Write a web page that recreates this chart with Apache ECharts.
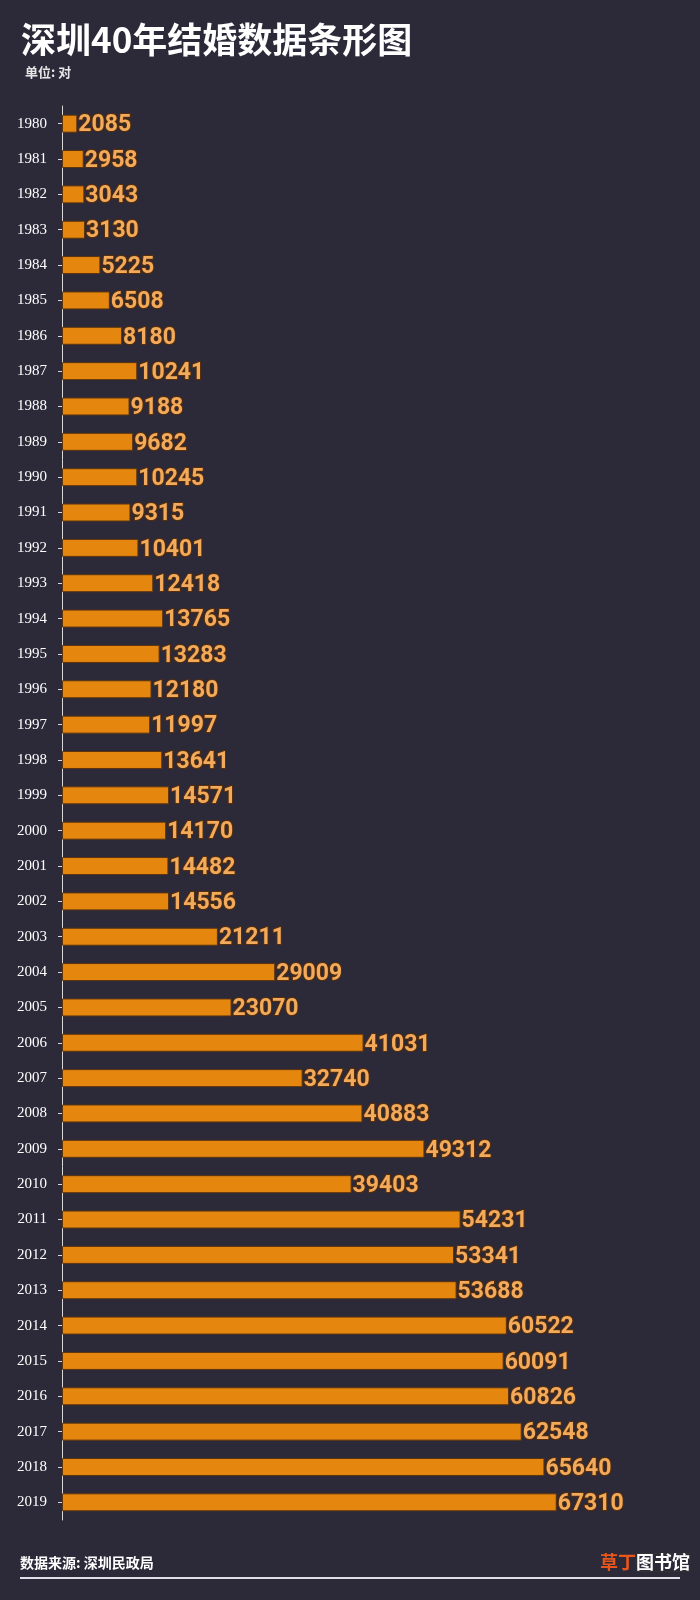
<!DOCTYPE html>
<html><head><meta charset="utf-8">
<script src="https://cdn.jsdelivr.net/npm/echarts@6/dist/echarts.min.js"></script>
<style>html,body{margin:0;padding:0;background:#2c2a39;}#c{width:700px;height:1600px;}</style>
</head><body><div id="c"></div>
<script>
const years = ['1980','1981','1982','1983','1984','1985','1986','1987','1988','1989','1990','1991','1992','1993','1994','1995','1996','1997','1998','1999','2000','2001','2002','2003','2004','2005','2006','2007','2008','2009','2010','2011','2012','2013','2014','2015','2016','2017','2018','2019'];
const marriages = [2085,2958,3043,3130,5225,6508,8180,10241,9188,9682,10245,9315,10401,12418,13765,13283,12180,11997,13641,14571,14170,14482,14556,21211,29009,23070,41031,32740,40883,49312,39403,54231,53341,53688,60522,60091,60826,62548,65640,67310];
const titleText = '深圳40年结婚数据条形图';
const unitText = '单位: 对';
const sourceText = '数据来源: 深圳民政局';

const chart = echarts.init(document.getElementById('c'));
chart.setOption({
  backgroundColor: '#2c2a39',
  animation: false,
  title: [{
    text: titleText, left: 16, top: 17,
    textStyle: {color: '#ffffff', fontSize: 35, fontWeight: 'bold', fontFamily: 'Noto Sans CJK SC'}
  }, {
    text: unitText, left: 20, top: 61,
    textStyle: {color: '#e6e6e6', fontSize: 13, fontWeight: 'bold', fontFamily: 'Noto Sans CJK SC'}
  }],
  grid: {left: 62, right: 50, top: 106, bottom: 80, containLabel: false},
  xAxis: {type: 'value', min: 0, max: 80000, show: false, splitLine: {show: false}},
  yAxis: {
    type: 'category', data: years, inverse: true,
    axisLine: {show: true, lineStyle: {color: '#d8d8d8', width: 1}},
    axisTick: {show: true, alignWithLabel: true, length: 4, lineStyle: {color: '#d8d8d8'}},
    axisLabel: {color: '#ffffff', fontSize: 15, margin: 15, fontFamily: 'Liberation Serif'}
  },
  series: [{
    type: 'bar', data: marriages, barWidth: 18,
    itemStyle: {color: '#e5870f', borderColor: '#5c3410', borderWidth: 1},
    label: {
      show: true, position: 'right', distance: 1, offset: [0, 2],
      color: '#f2ab5c', fontSize: 23, fontWeight: 'bold',
      fontFamily: 'Roboto, sans-serif',
      textBorderColor: '#5a2e08', textBorderWidth: 2
    }
  }],
  graphic: [{
    type: 'text', left: 20, top: 1556,
    style: {text: sourceText, fill: '#ffffff', fontSize: 14, fontWeight: 'bold', fontFamily: 'Noto Sans CJK SC'}
  }, {
    type: 'line', shape: {x1: 20, y1: 1578, x2: 680, y2: 1578},
    style: {stroke: '#e0e0e8', lineWidth: 2}
  }, {
    type: 'text', left: 600, top: 1553,
    style: {
      text: '{a|草丁}{b|图书馆}',
      rich: {
        a: {fill: '#e8561c', fontSize: 18, fontWeight: 'bold', fontFamily: 'Noto Sans CJK SC'},
        b: {fill: '#ffffff', fontSize: 18, fontWeight: 'bold', fontFamily: 'Noto Sans CJK SC', textBorderColor: '#333333', textBorderWidth: 1}
      }
    }
  }]
});
</script>
</body></html>
